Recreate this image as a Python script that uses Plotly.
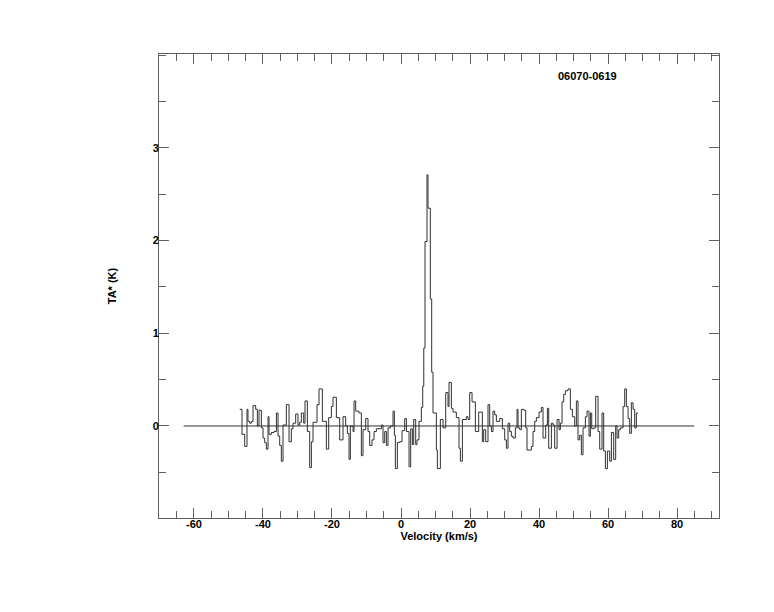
import plotly.graph_objects as go

# Spectrum: step left edges (km/s) and antenna temperature (K)
vel_edges = [
    -46.75, -46.08, -45.30, -44.63, -44.35, -43.86, -43.37, -42.89, -42.12, -41.63,
    -41.15, -40.47, -39.99, -39.51, -39.02, -38.54, -38.25, -37.57, -36.80, -36.12,
    -35.64, -35.16, -34.68, -34.19, -33.23, -32.45, -31.78, -31.30, -30.52, -29.85,
    -29.36, -28.88, -28.20, -27.82, -27.14, -26.46, -25.98, -25.50, -24.34, -23.76,
    -22.79, -21.63, -20.96, -20.18, -19.70, -18.73, -17.77, -16.80, -16.03, -15.55,
    -15.06, -14.68, -13.90, -13.61, -13.13, -12.17, -11.49, -11.01, -10.23, -9.56,
    -9.07, -8.40, -7.82, -7.14, -5.69, -5.21, -4.72, -4.24, -3.76, -3.08,
    -2.31, -1.92, -1.63, -1.05, -0.38, 0.30, 1.07, 1.56, 2.33, 2.81,
    3.29, 3.68, 4.26, 4.64, 5.22, 5.90, 6.30, 6.60, 6.96, 7.54,
    7.83, 8.50, 8.90, 9.28, 10.25, 10.54, 11.41, 12.18, 12.96, 13.63,
    13.92, 14.60, 15.08, 16.04, 16.82, 17.21, 17.79, 18.94, 19.43, 19.91,
    20.59, 21.55, 22.52, 23.58, 23.97, 24.55, 25.22, 25.71, 26.19, 26.67,
    27.16, 27.64, 28.61, 29.38, 30.06, 30.54, 31.02, 31.51, 31.99, 32.47,
    33.15, 33.63, 33.92, 34.41, 34.89, 35.57, 36.14, 36.53, 37.11, 37.79,
    38.27, 38.75, 39.24, 40.01, 40.69, 41.17, 41.94, 42.43, 42.81, 43.59,
    44.07, 44.55, 45.23, 45.81, 46.19, 46.68, 47.16, 47.64, 48.41, 49.09,
    49.67, 50.35, 50.83, 51.31, 51.80, 52.28, 52.76, 53.44, 53.92, 54.50,
    54.89, 55.28, 55.86, 56.43, 57.11, 57.59, 58.27, 58.75, 59.24, 59.82,
    60.49, 60.98, 61.65, 62.23, 62.62, 63.10, 63.59, 64.36, 64.84, 65.32,
    65.81, 66.29, 66.77, 67.26, 67.74, 68.22,
]
ta_values = [
    0.18, -0.09, -0.22, 0.18, 0.05, 0.03, 0.05, 0.22, 0.18, 0.00,
    0.17, -0.02, -0.13, -0.18, -0.25, 0.10, -0.09, -0.07, -0.06, 0.14,
    -0.11, -0.21, -0.38, 0.01, 0.23, -0.17, -0.03, 0.03, 0.13, 0.01,
    0.04, 0.14, 0.03, 0.27, -0.06, -0.45, -0.17, 0.04, 0.23, 0.40,
    0.05, -0.25, 0.09, 0.21, 0.31, 0.09, -0.15, 0.10, 0.00, -0.08,
    -0.36, 0.00, -0.06, 0.27, 0.16, 0.14, -0.32, -0.04, 0.08, -0.06,
    -0.21, -0.15, -0.06, -0.03, 0.01, -0.18, -0.06, -0.21, -0.02, 0.00,
    0.16, -0.10, -0.46, -0.18, -0.17, -0.05, 0.08, -0.06, -0.44, -0.03,
    -0.20, 0.07, -0.20, -0.15, 0.05, 0.20, 0.43, 0.84, 1.99, 2.71,
    2.35, 1.37, 0.58, 0.14, -0.26, -0.46, 0.07, -0.02, 0.36, 0.21,
    0.47, 0.19, 0.15, 0.09, -0.24, -0.38, 0.07, 0.10, 0.07, 0.36,
    0.26, -0.06, 0.15, -0.17, -0.04, -0.17, 0.23, 0.00, -0.06, 0.16,
    0.12, 0.05, 0.08, -0.03, -0.15, -0.24, 0.03, -0.06, -0.11, -0.13,
    -0.02, 0.18, -0.02, -0.04, 0.18, 0.17, -0.02, -0.26, -0.26, -0.22,
    -0.06, 0.05, 0.09, 0.15, 0.20, -0.13, 0.01, 0.19, -0.24, 0.03,
    0.01, -0.24, 0.07, -0.04, 0.03, 0.26, 0.34, 0.38, 0.40, 0.18,
    0.10, 0.00, 0.27, -0.15, -0.10, -0.31, -0.02, 0.10, 0.16, -0.11,
    0.14, -0.03, -0.02, 0.32, -0.06, -0.25, 0.14, -0.27, -0.46, -0.27,
    -0.38, -0.07, -0.36, 0.00, -0.13, -0.04, -0.02, 0.21, 0.40, 0.21,
    0.08, -0.08, 0.25, 0.18, -0.02, 0.14,
]
vel_end = 68.70

baseline_x = [-63.0, 85.0]
baseline_y = [0.0, 0.0]

x_tick_vals = [-60, -40, -20, 0, 20, 40, 60, 80]
x_tick_text = ["-60", "-40", "-20", "0", "20", "40", "60", "80"]
y_tick_vals = [0, 1, 2, 3]
y_tick_text = ["0", "1", "2", "3"]

source_name = "06070-0619"
x_label = "Velocity (km/s)"
y_label = "TA* (K)"

FONT = "Liberation Sans, Arial, Helvetica, sans-serif"
AX = "#606060"

fig = go.Figure()
fig.add_trace(go.Scatter(
    x=baseline_x, y=baseline_y, mode="lines",
    line=dict(color="#303030", width=1), hoverinfo="skip", showlegend=False))
fig.add_trace(go.Scatter(
    x=vel_edges + [vel_end], y=ta_values + [ta_values[-1]], mode="lines",
    line=dict(color="#303030", width=1, shape="hv"), showlegend=False))

axis_common = dict(
    showgrid=False, zeroline=False, showline=True, linecolor=AX, linewidth=1,
    mirror="allticks", ticks="inside", tickcolor=AX, tickwidth=1, ticklen=10,
    tickfont=dict(family=FONT, size=11, color="black", weight="bold"),
)

fig.update_xaxes(
    range=[-70.14, 92.17], tickmode="array", tickvals=x_tick_vals, ticktext=x_tick_text,
    ticklabelstandoff=-4,
    minor=dict(dtick=5, tick0=0, ticks="inside", ticklen=7, tickcolor=AX, tickwidth=1, showgrid=False),
    title=dict(text=x_label, font=dict(family=FONT, size=11, color="black", weight="bold"), standoff=2),
    **axis_common)
fig.update_yaxes(
    range=[-0.993, 4.014], tickmode="array", tickvals=y_tick_vals, ticktext=y_tick_text,
    ticklabelstandoff=-3,
    minor=dict(dtick=0.5, tick0=0, ticks="inside", ticklen=7, tickcolor=AX, tickwidth=1, showgrid=False),
    title=dict(text=y_label, font=dict(family=FONT, size=11, color="black", weight="bold"), standoff=33),
    **axis_common)

fig.add_annotation(
    text=source_name, xref="paper", yref="paper", x=0.766, y=0.953,
    showarrow=False, xanchor="center", yanchor="middle",
    font=dict(family=FONT, size=11, color="black", weight="bold"))

fig.update_layout(
    width=758, height=596, autosize=False,
    margin=dict(l=151, r=47, t=46, b=86, autoexpand=False),
    paper_bgcolor="white", plot_bgcolor="white",
)

fig.write_html("out.html")
